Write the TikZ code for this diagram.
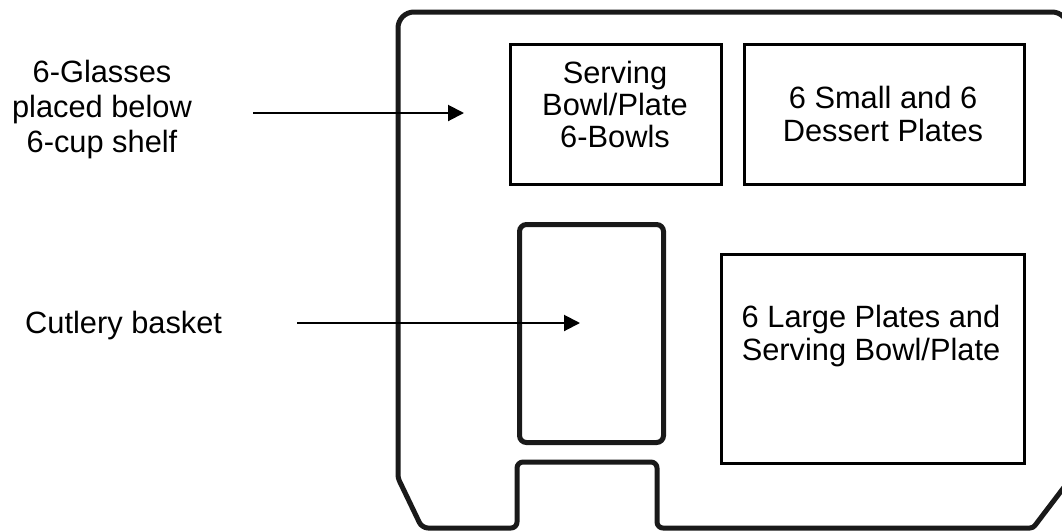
\documentclass[tikz,border=0pt]{standalone}
\usepackage{fontspec}
\setmainfont{Liberation Sans}
\usetikzlibrary{arrows.meta}
\begin{document}
\begin{tikzpicture}[x=1pt,y=-1pt,
  lbl/.style={font=\fontsize{30.8}{34}\selectfont, align=center, inner sep=0pt, anchor=base},
  compart/.style={draw=black, line width=3pt, inner sep=0pt, anchor=north west},
  basketbox/.style={draw=black!90, line width=5pt, rounded corners=7pt, inner sep=0pt, anchor=north west},
  outline/.style={draw=black!90, line width=5pt, line join=round},
  pointer/.style={draw=black, line width=2pt, -{Triangle[length=16pt,width=16pt]}}
]
\useasboundingbox (0,0) rectangle (1062,531);

% dishwasher rack outline
\draw[outline] (422,528) [rounded corners=3pt] -- (398,478) [rounded corners=16pt] -- (398,12) -- (1068,12) [rounded corners=3pt] -- (1068,482) -- (1033,528) [rounded corners=6pt] -- (657,528) -- (657,462) -- (517,462) -- (517,528) -- cycle;

% compartments
\node[compart, minimum width=211pt, minimum height=140pt] (b1) at (509,43) {};
\node[compart, minimum width=280pt, minimum height=140pt] (b2) at (743,43) {};
\node[compart, minimum width=303pt, minimum height=209pt] (b3) at (720,253) {};
\node[basketbox, minimum width=144pt, minimum height=218pt] (basket) at (517,222) {};

% texts (anchor = baseline of the last line)
\node[lbl, font=\fontsize{30.8}{32}\selectfont] (t1) at (615,147) {Serving\\Bowl/Plate\\6-Bowls};
\node[lbl, font=\fontsize{30.8}{33}\selectfont] (t2) at (883,141) {6 Small and 6\\Dessert Plates};
\node[lbl, font=\fontsize{30.8}{33}\selectfont] (t3) at (871,360) {6 Large Plates and\\Serving Bowl/Plate};
\node[lbl, font=\fontsize{30.8}{35}\selectfont] (glasses) at (102,152) {6-Glasses\\placed below\\6-cup shelf};
\node[lbl, anchor=base west] (cutlery) at (25,333) {Cutlery basket};

% arrows
\coordinate (a1s) at (253,113);
\coordinate (a1e) at (464,113);
\coordinate (a2s) at (297,323);
\coordinate (a2e) at (580,323);
\draw[pointer] (a1s) -- (a1e);
\draw[pointer] (a2s) -- (a2e);
\end{tikzpicture}
\end{document}
